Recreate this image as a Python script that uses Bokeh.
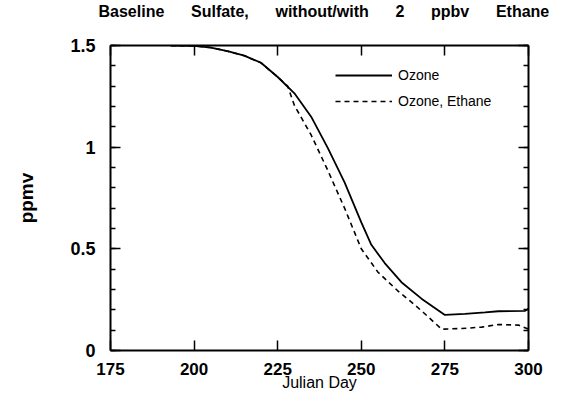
from bokeh.plotting import figure
from bokeh.models import (Range1d, LinearAxis, FixedTicker, SingleIntervalTicker,
                          Legend, LegendItem, Title)
from bokeh.embed import file_html
from bokeh.resources import INLINE

# ---- data ----
days_ozone = [193, 200, 205, 210, 215, 220, 225, 230, 235, 240, 245, 250, 253, 257,
              262, 268, 275, 281, 287, 291, 299, 300]
ozone = [1.500, 1.498, 1.490, 1.472, 1.450, 1.415, 1.345, 1.265, 1.150, 0.995, 0.827,
         0.630, 0.520, 0.430, 0.336, 0.255, 0.175, 0.180, 0.187, 0.193, 0.195, 0.205]

days_ethane = [193, 200, 205, 210, 215, 220, 225, 228, 230, 235, 240, 245, 250, 255,
               261, 265, 268.5, 274, 280, 286, 291, 297, 300]
ozone_ethane = [1.500, 1.498, 1.490, 1.472, 1.450, 1.415, 1.345, 1.300, 1.205, 1.060,
                0.885, 0.700, 0.500, 0.385, 0.292, 0.238, 0.188, 0.105, 0.108, 0.115,
                0.128, 0.125, 0.105]

series_names = ["Ozone", "Ozone, Ethane"]
x_ticks = [175, 200, 225, 250, 275, 300]
y_ticks = [0, 0.5, 1, 1.5]
y_tick_labels = ["0", "0.5", "1", "1.5"]
title_words = ["Baseline", "Sulfate,", "without/with", "2", "ppbv", "Ethane"]
x_label = "Julian Day"
y_label = "ppmv"

FONT = "Liberation Sans"
gap = "\u00a0" * 6

p = figure(width=552, height=393, x_range=Range1d(175, 300), y_range=Range1d(0, 1.5),
           output_backend="svg", toolbar_location=None, title=None,
           min_border_left=110, min_border_right=24, min_border_top=45,
           min_border_bottom=43)
p.outline_line_color = None
p.grid.grid_line_color = None
p.background_fill_color = "white"

# bottom axis
bx = p.xaxis[0]
bx.ticker = FixedTicker(ticks=x_ticks)
bx.major_tick_in = 10
bx.major_tick_out = 0
bx.minor_tick_line_color = None
bx.axis_line_width = 2
bx.major_tick_line_width = 1.5
bx.major_label_text_font = FONT
bx.major_label_text_font_size = "17px"
bx.major_label_text_font_style = "bold"
bx.major_label_text_color = "black"
bx.major_label_standoff = 12
bx.axis_label = x_label
bx.axis_label_text_font = FONT
bx.axis_label_text_font_size = "16px"
bx.axis_label_text_font_style = "normal"
bx.axis_label_text_color = "black"
bx.axis_label_standoff = -4

# left axis
ly = p.yaxis[0]
ly.ticker = SingleIntervalTicker(interval=0.5, num_minor_ticks=5)
ly.major_tick_in = 10
ly.major_tick_out = 0
ly.minor_tick_in = 5
ly.minor_tick_out = 0
ly.axis_line_width = 2
ly.major_tick_line_width = 1.5
ly.minor_tick_line_width = 1.5
ly.major_label_overrides = dict(zip(y_ticks, y_tick_labels))
ly.major_label_text_font = FONT
ly.major_label_text_font_size = "18px"
ly.major_label_text_font_style = "bold"
ly.major_label_text_color = "black"
ly.major_label_standoff = 15
ly.axis_label = y_label
ly.axis_label_text_font = FONT
ly.axis_label_text_font_size = "19px"
ly.axis_label_text_font_style = "bold"
ly.axis_label_text_color = "black"
ly.axis_label_standoff = 30

# right axis (ticks only, labels not drawn)
ry = LinearAxis(ticker=SingleIntervalTicker(interval=0.5, num_minor_ticks=5),
                major_tick_in=10, major_tick_out=0, minor_tick_in=5, minor_tick_out=0,
                axis_line_width=2, major_tick_line_width=1.5, minor_tick_line_width=1.5,
                major_label_text_color=None, major_label_text_font_size="8px",
                major_label_standoff=0)
p.add_layout(ry, "right")

# top axis (ticks only, labels not drawn)
tx = LinearAxis(ticker=FixedTicker(ticks=x_ticks),
                major_tick_in=10, major_tick_out=0, minor_tick_line_color=None,
                axis_line_width=2, major_tick_line_width=1.5,
                major_label_text_color=None, major_label_text_font_size="8px",
                major_label_standoff=0)
p.add_layout(tx, "above")

# title: a blank second line lifts the text away from the frame
p.add_layout(Title(text=gap.join(title_words) + "\n\u00a0", align="left", offset=-12,
                   text_font_size="16px", text_font_style="bold", text_font=FONT,
                   text_line_height=1.5, text_color="black", standoff=0), "above")

r1 = p.line(days_ozone, ozone, line_color="black", line_width=1.8)
r2 = p.line(days_ethane, ozone_ethane, line_color="black", line_width=1.6,
            line_dash="5 4")

legend = Legend(items=[LegendItem(label=series_names[0], renderers=[r1]),
                       LegendItem(label=series_names[1], renderers=[r2])],
                location=(225, 239), glyph_width=57, glyph_height=20,
                label_standoff=6, spacing=6, padding=0, margin=0,
                border_line_color=None, background_fill_alpha=0,
                label_text_font=FONT, label_text_font_size="14px",
                label_text_color="black")
p.add_layout(legend)

open("out.html", "w").write(file_html(p, INLINE))
